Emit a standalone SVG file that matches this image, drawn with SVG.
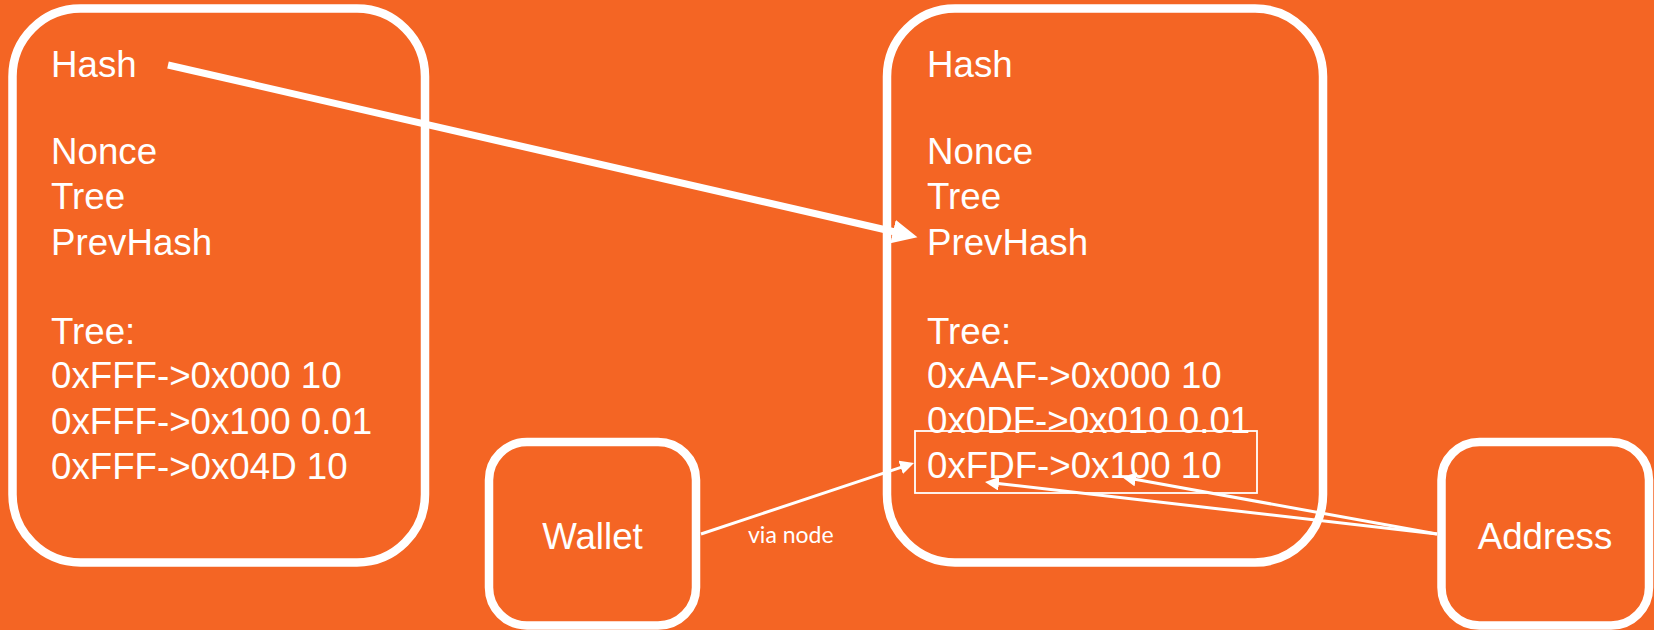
<svg xmlns="http://www.w3.org/2000/svg" width="1654" height="630" viewBox="0 0 1654 630">
<style>
.box{fill:none;stroke:#fff;stroke-width:8.5}
.t{font-family:"Liberation Sans",Arial,sans-serif;font-size:36.7px;fill:#fff}
.lbl{font-family:Lato,"Open Sans",sans-serif;font-size:23px;fill:#fff}
.c{fill:none;stroke:#fff}
</style>
<defs>
<marker id="big" markerUnits="userSpaceOnUse" markerWidth="28" markerHeight="26" refX="2" refY="12" orient="auto" viewBox="0 0 28 26"><path d="M0,0 L25,12 L0,24 z" fill="#fff"/></marker>
<marker id="sm" markerUnits="userSpaceOnUse" markerWidth="16" markerHeight="16" refX="1" refY="7" orient="auto" viewBox="0 0 16 16"><path d="M0,0 L14,7 L0,14 z" fill="#fff"/></marker>
</defs>
<rect width="1654" height="630" fill="#F46524"/>
<g id="block1">
<rect class="box" x="12.5" y="8.5" width="412.5" height="554" rx="68" ry="68"/>
<text class="t" x="51" y="77">Hash</text>
<text class="t" x="51" y="164">Nonce</text>
<text class="t" x="51" y="209">Tree</text>
<text class="t" x="51" y="255">PrevHash</text>
<text class="t" x="51" y="344">Tree:</text>
<text class="t" x="51" y="388">0xFFF-&gt;0x000 10</text>
<text class="t" x="51" y="434">0xFFF-&gt;0x100 0.01</text>
<text class="t" x="51" y="479">0xFFF-&gt;0x04D 10</text>
</g>
<g id="block2">
<rect class="box" x="887" y="8.5" width="436" height="554" rx="68" ry="68"/>
<text class="t" x="927" y="77">Hash</text>
<text class="t" x="927" y="164">Nonce</text>
<text class="t" x="927" y="209">Tree</text>
<text class="t" x="927" y="255">PrevHash</text>
<text class="t" x="927" y="344">Tree:</text>
<text class="t" x="927" y="388">0xAAF-&gt;0x000 10</text>
<text class="t" x="927" y="433">0x0DF-&gt;0x010 0.01</text>
<text class="t" x="927" y="478">0xFDF-&gt;0x100 10</text>
</g>
<g id="highlight">
<rect x="915" y="431" width="342" height="62" fill="none" stroke="#fff" stroke-width="1.8"/>
</g>
<g id="wallet">
<rect class="box" x="489" y="442" width="207" height="183.5" rx="38" ry="38"/>
<text class="t" x="592.5" y="549" text-anchor="middle">Wallet</text>
</g>
<g id="address">
<rect class="box" x="1441.5" y="442" width="207.5" height="183.5" rx="38" ry="38"/>
<text class="t" x="1545" y="549" text-anchor="middle">Address</text>
</g>
<g id="connectors">
<line class="c" x1="168" y1="65" x2="895" y2="232" stroke-width="7" marker-end="url(#big)"/>
<line class="c" x1="701" y1="534" x2="901.7" y2="467.1" stroke-width="3" marker-end="url(#sm)"/>
<text class="lbl" x="748" y="543">via node</text>
<line class="c" x1="1437" y1="534" x2="997.9" y2="483.5" stroke-width="3" marker-end="url(#sm)"/>
<line class="c" x1="1437" y1="534" x2="1134.8" y2="479.3" stroke-width="3" marker-end="url(#sm)"/>
</g>
</svg>
